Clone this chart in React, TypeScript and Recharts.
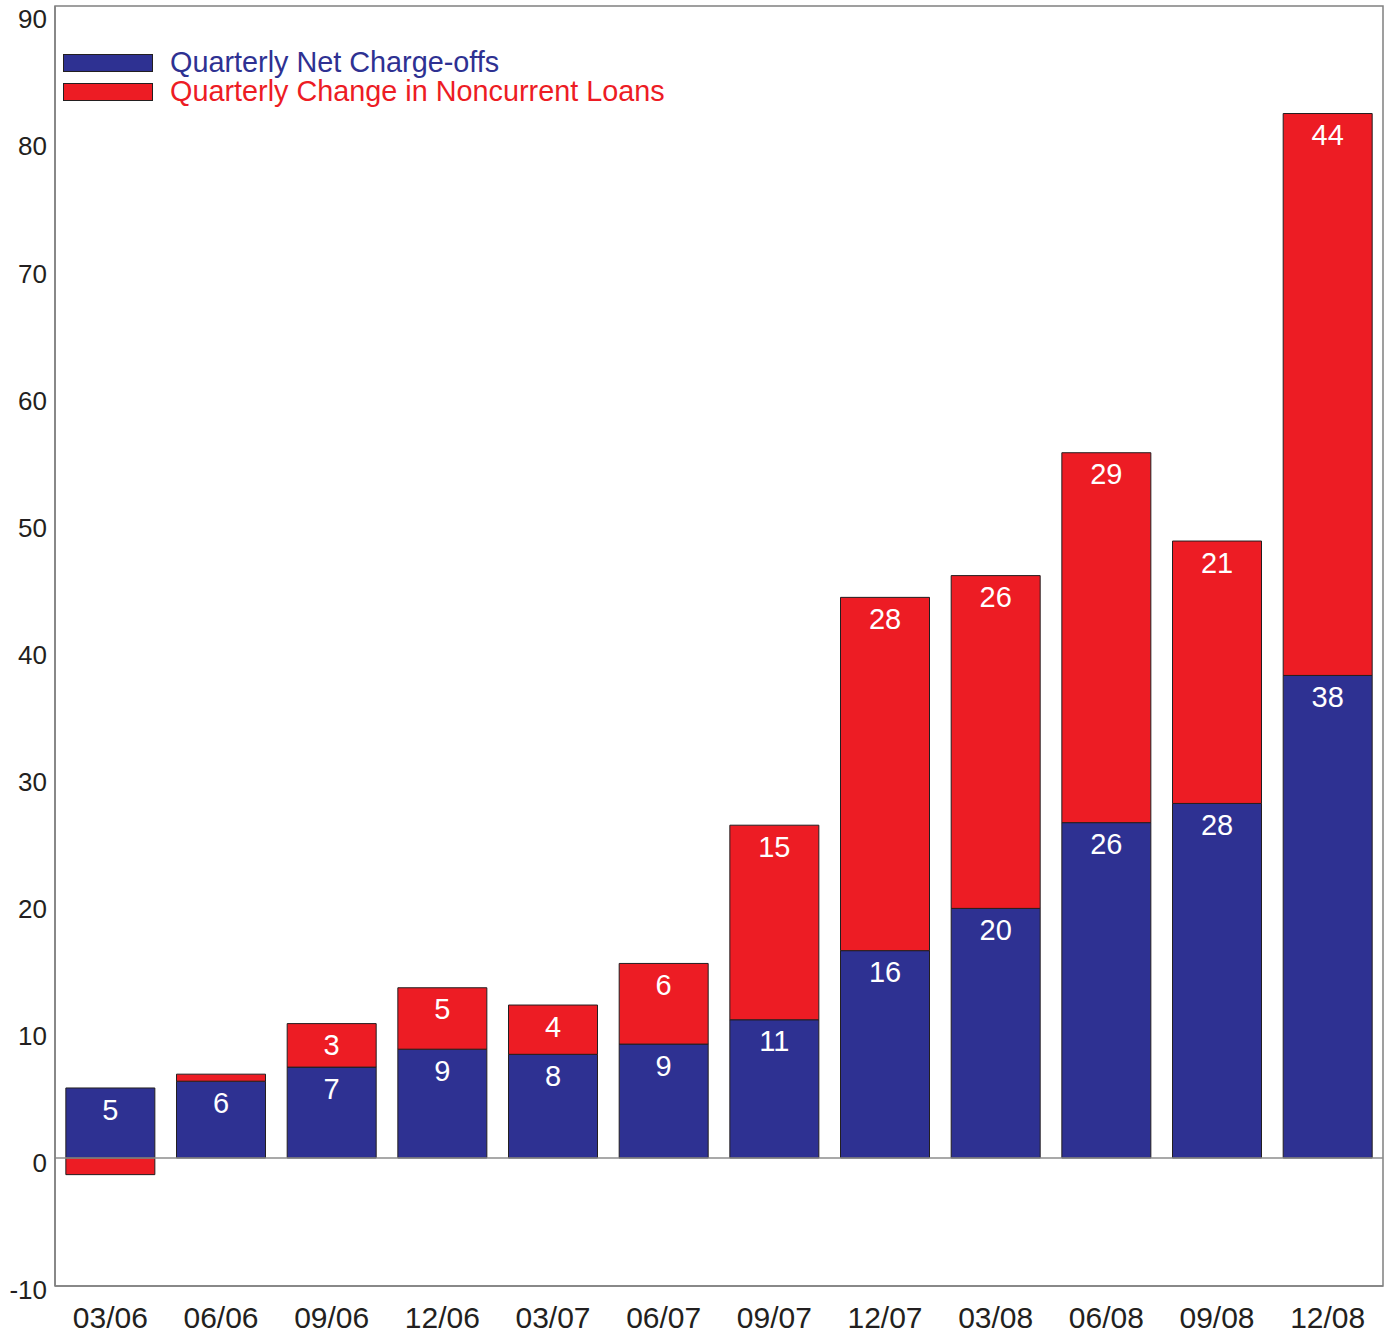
import * as React from 'react';
import {
  Bar,
  BarChart,
  LabelList,
  ReferenceArea,
  ReferenceLine,
  XAxis,
  YAxis,
} from 'recharts';

const quarters = ['03/06', '06/06', '09/06', '12/06', '03/07', '06/07', '09/07', '12/07', '03/08', '06/08', '09/08', '12/08'];
const netChargeOffs = [5.47, 6.0, 7.1, 8.5, 8.1, 8.9, 10.8, 16.2, 19.5, 26.2, 27.7, 37.7];
const noncurrentChange = [-1.3, 0.55, 3.4, 4.8, 3.85, 6.3, 15.2, 27.6, 26.0, 28.9, 20.5, 43.9];
const yTicks = [-10, 0, 10, 20, 30, 40, 50, 60, 70, 80, 90];

const BLUE = '#2E3192';
const RED = '#ED1C24';
const TEXT = '#231F20';
const FONT = '"Liberation Sans", Arial, Helvetica, sans-serif';

const data = quarters.map((q, i) => ({
  quarter: q,
  chargeOffs: netChargeOffs[i],
  noncurrent: noncurrentChange[i],
}));

const legendItems = [
  { label: 'Quarterly Net Charge-offs', color: BLUE },
  { label: 'Quarterly Change in Noncurrent Loans', color: RED },
];

function ChartLegend() {
  return (
    <div style={{ position: 'absolute', left: 63, top: 48, fontFamily: FONT }}>
      {legendItems.map((item) => (
        <div key={item.label} style={{ display: 'flex', alignItems: 'center', height: 29 }}>
          <span
            style={{
              display: 'inline-block',
              width: 88,
              height: 16,
              background: item.color,
              border: `1px solid ${TEXT}`,
              marginRight: 17,
            }}
          />
          <span style={{ color: item.color, fontSize: 28.8, lineHeight: '29px', whiteSpace: 'nowrap' }}>
            {item.label}
          </span>
        </div>
      ))}
    </div>
  );
}

// the source's tick labels sit a little lower than their gridline values
function YTick(props: any) {
  const { x, y, payload } = props;
  const dy = 4 + (payload.value + 10) * 0.09;
  return (
    <text x={x} y={y + dy} dy="0.36em" textAnchor="end" fill={TEXT} fontSize={26} fontFamily={FONT}>
      {payload.value}
    </text>
  );
}

const roundLabel = (v: any) => (typeof v === 'number' && v >= 1 ? Math.round(v) : '');

export default function App() {
  return (
    <div style={{ position: 'absolute', left: 0, top: 0, width: 1390, height: 1333, background: '#fff' }}>
      <BarChart
        width={1390}
        height={1333}
        data={data}
        stackOffset="sign"
        barCategoryGap="9.8%"
        margin={{ top: 6, right: 7, bottom: 0, left: 0 }}
      >
        <XAxis
          dataKey="quarter"
          height={47}
          tickLine={false}
          axisLine={{ stroke: '#808080', strokeWidth: 1.5 }}
          tickMargin={15}
          tick={{ fill: TEXT, fontSize: 30, fontFamily: FONT }}
          interval={0}
        />
        <YAxis
          width={55}
          domain={[-10, 90]}
          ticks={yTicks}
          interval={0}
          tickLine={false}
          axisLine={{ stroke: '#808080', strokeWidth: 1.5 }}
          tick={<YTick />}
        />
        <ReferenceArea y1={-10} y2={90} fill="none" stroke="#808080" strokeWidth={1.5} ifOverflow="visible" />
        <ReferenceLine y={0} stroke="#8C8C8C" strokeWidth={1.5} />
        <Bar
          dataKey="chargeOffs"
          stackId="a"
          fill={BLUE}
          stroke={TEXT}
          strokeWidth={1}
          isAnimationActive={false}
        >
          <LabelList
            dataKey="chargeOffs"
            position="insideTop"
            offset={11}
            formatter={roundLabel}
            fill="#fff"
            fontSize={29}
            fontFamily={FONT}
          />
        </Bar>
        <Bar
          dataKey="noncurrent"
          stackId="a"
          fill={RED}
          stroke={TEXT}
          strokeWidth={1}
          isAnimationActive={false}
        >
          <LabelList
            dataKey="noncurrent"
            position="insideTop"
            offset={11}
            formatter={roundLabel}
            fill="#fff"
            fontSize={29}
            fontFamily={FONT}
          />
        </Bar>
      </BarChart>
      <ChartLegend />
    </div>
  );
}
